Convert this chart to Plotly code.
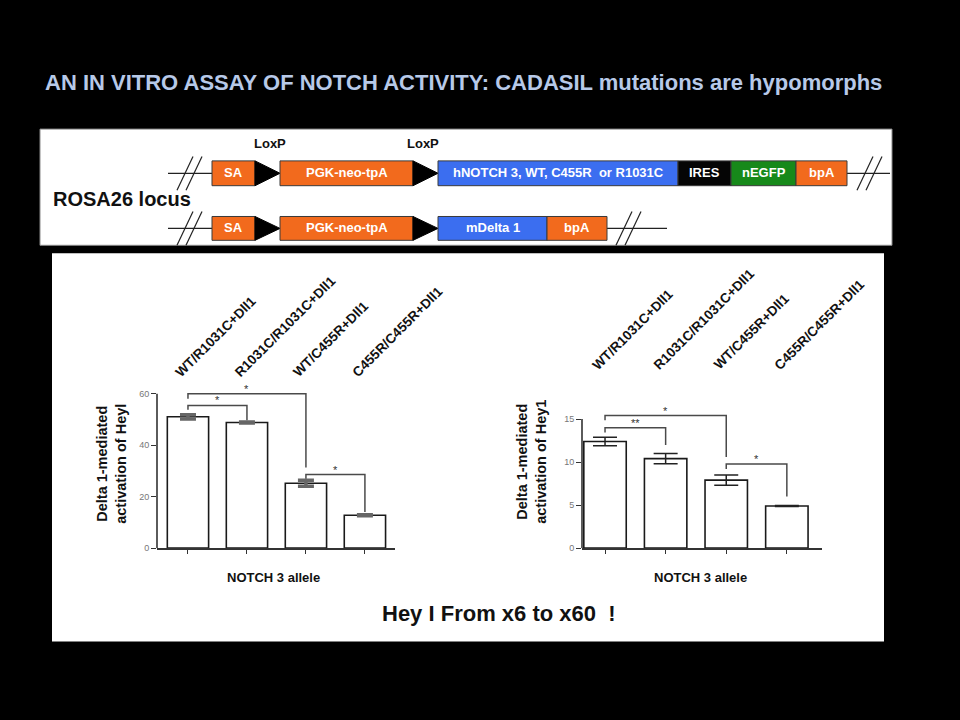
import plotly.graph_objects as go

W, H = 960, 720
FONT = "Liberation Sans, Arial, sans-serif"


def fx(p):
    return p / W


def fy(p):
    return 1 - p / H


# ---------------- data ----------------
categories = ["WT/R1031C+Dll1", "R1031C/R1031C+Dll1", "WT/C455R+Dll1", "C455R/C455R+Dll1"]
hey_left = [51.0, 48.8, 25.2, 12.8]
err_left = [0.8, 0.15, 1.2, 0.2]
hey_right = [12.4, 10.4, 7.9, 4.9]
err_right = [0.5, 0.6, 0.6, 0.05]
ticks_left = [0, 20, 40, 60]
ticks_right = [0, 5, 10, 15]
# significance brackets: (from bar, to bar, bracket height, left leg end, right leg end, label)
brackets_left = [(0, 2, 60.0, 58.0, 31.3, "*"), (0, 1, 55.4, 53.7, 49.7, "*"), (2, 3, 28.6, 27.0, 14.0, "*")]
brackets_right = [(0, 2, 15.4, 14.85, 10.6, "*"), (0, 1, 14.0, 13.45, 12.0, "**"), (2, 3, 9.77, 9.2, 6.0, "*")]

title_text = "AN IN VITRO ASSAY OF NOTCH ACTIVITY: CADASIL mutations are hypomorphs"
footer_text = "Hey I From x6 to x60\u00a0\u00a0!"
ytitle_left = "Delta 1-mediated<br>activation of Heyl"
ytitle_right = "Delta 1-mediated<br>activation of Hey1"
xtitle = "NOTCH 3 allele"

# construct schematic
row1_labels = ["SA", "", "PGK-neo-tpA", "", "hNOTCH 3, WT, C455R\u00a0 or R1031C", "IRES", "nEGFP", "bpA"]
row2_labels = ["SA", "", "PGK-neo-tpA", "", "mDelta 1", "bpA"]
row1_kinds = ["orange", "loxp", "orange", "loxp", "blue", "black", "green", "orange"]
row2_kinds = ["orange", "loxp", "orange", "loxp", "blue", "orange"]
row1_edges = [212, 255, 280, 413, 438, 678, 731, 796, 847]
row2_edges = [212, 255, 280, 413, 438, 547, 607]

COLORS = {"orange": "#f26a1d", "blue": "#3b6ef0", "black": "#050505", "green": "#17891a"}

fig = go.Figure()
shapes = []
annotations = []

# background panels
shapes.append(dict(type="rect", xref="paper", yref="paper", x0=fx(40), x1=fx(892), y0=fy(247), y1=fy(130),
                   fillcolor="white", line=dict(color="#8a8a8a", width=1), layer="below"))
shapes.append(dict(type="rect", xref="paper", yref="paper", x0=fx(52), x1=fx(884), y0=fy(646), y1=fy(255),
                   fillcolor="white", line=dict(width=0), layer="below"))


def draw_row(labels, kinds, edges, top, bottom, line_start, line_end, breaks):
    mid = (top + bottom) / 2
    shapes.append(dict(type="line", xref="paper", yref="paper", x0=fx(line_start), x1=fx(edges[0]),
                       y0=fy(mid), y1=fy(mid), line=dict(color="#222", width=1.2)))
    shapes.append(dict(type="line", xref="paper", yref="paper", x0=fx(edges[-1]), x1=fx(line_end),
                       y0=fy(mid), y1=fy(mid), line=dict(color="#222", width=1.2)))
    for bx in breaks:
        for off in (0, 9):
            shapes.append(dict(type="line", xref="paper", yref="paper",
                               x0=fx(bx + off), x1=fx(bx + off + 16), y0=fy(mid + 17), y1=fy(mid - 17),
                               line=dict(color="#222", width=1.2)))
    for lab, kind, x0, x1 in zip(labels, kinds, edges[:-1], edges[1:]):
        if kind == "loxp":
            path = "M {} {} L {} {} L {} {} Z".format(fx(x0), fy(top), fx(x1), fy(mid), fx(x0), fy(bottom))
            shapes.append(dict(type="path", xref="paper", yref="paper", path=path,
                               fillcolor="black", line=dict(color="black", width=1)))
        else:
            shapes.append(dict(type="rect", xref="paper", yref="paper", x0=fx(x0), x1=fx(x1),
                               y0=fy(bottom), y1=fy(top), fillcolor=COLORS[kind],
                               line=dict(color="#3a3a3a", width=1)))
            annotations.append(dict(xref="paper", yref="paper", x=fx((x0 + x1) / 2), y=fy(mid - 1),
                                    text="<b>" + lab + "</b>", showarrow=False,
                                    font=dict(family=FONT, size=13, color="white"),
                                    xanchor="center", yanchor="middle"))


draw_row(row1_labels, row1_kinds, row1_edges, 162, 187, 168, 890, [177, 857])
draw_row(row2_labels, row2_kinds, row2_edges, 218, 242, 168, 667, [177, 616])

for lx in (270, 423):
    annotations.append(dict(xref="paper", yref="paper", x=fx(lx), y=fy(145), text="<b>LoxP</b>",
                            showarrow=False, font=dict(family=FONT, size=13, color="#111"),
                            xanchor="center", yanchor="middle"))
annotations.append(dict(xref="paper", yref="paper", x=fx(51), y=fy(200), text="<b>ROSA26 locus</b>",
                        showarrow=False, font=dict(family=FONT, size=20, color="#111"),
                        xanchor="left", yanchor="middle"))

# title / footer
annotations.append(dict(xref="paper", yref="paper", x=fx(43), y=fy(83), text="<b>" + title_text + "</b>",
                        showarrow=False, font=dict(family=FONT, size=22, color="#b7c9e8"),
                        xanchor="left", yanchor="middle"))
annotations.append(dict(xref="paper", yref="paper", x=fx(499), y=fy(618), text="<b>" + footer_text + "</b>",
                        showarrow=False, font=dict(family=FONT, size=22, color="#111"),
                        xanchor="center", yanchor="middle"))

xs = list(range(len(categories)))


def add_chart(values, errors, ticks, brackets, xa, ya, err_color, err_width, err_thick,
              label_bottom, ytitle, ytitle_xy, xtitle_xy):
    fig.add_trace(go.Bar(x=xs, y=values, width=0.7, xaxis=xa, yaxis=ya,
                         marker=dict(color="white", line=dict(color="#1a1a1a", width=1.6)),
                         error_y=dict(type="data", array=errors, color=err_color,
                                      thickness=err_thick, width=err_width),
                         showlegend=False, hoverinfo="skip"))
    for (i, j, h, li, lj, lab) in brackets:
        fig.add_trace(go.Scatter(x=[i, i, j, j], y=[li, h, h, lj], mode="lines", xaxis=xa, yaxis=ya,
                                 line=dict(color="#4a4a4a", width=1.5), showlegend=False,
                                 hoverinfo="skip"))
        annotations.append(dict(xref=xa, yref=ya, x=(i + j) / 2, y=h, text=lab, showarrow=False,
                                font=dict(family=FONT, size=11, color="#333"),
                                xanchor="center", yanchor="bottom", yshift=-3))
    shapes.append(dict(type="line", xref=xa + " domain", yref=ya, x0=0, x1=0, y0=ticks[0], y1=ticks[-1],
                       line=dict(color="#333", width=1.6)))
    for k, cat in enumerate(categories):
        annotations.append(dict(xref=xa, yref="paper", x=k, y=fy(label_bottom), text="<b>" + cat + "</b>",
                                textangle=-45, showarrow=False, xanchor="left", yanchor="bottom",
                                xshift=-18, font=dict(family=FONT, size=13.5, color="#111")))
    annotations.append(dict(xref="paper", yref="paper", x=fx(ytitle_xy[0]), y=fy(ytitle_xy[1]),
                            text="<b>" + ytitle + "</b>", textangle=-90, showarrow=False,
                            xanchor="center", yanchor="middle",
                            font=dict(family=FONT, size=14.5, color="#111")))
    annotations.append(dict(xref="paper", yref="paper", x=fx(xtitle_xy[0]), y=fy(xtitle_xy[1]),
                            text="<b>" + xtitle + "</b>", showarrow=False,
                            xanchor="center", yanchor="middle",
                            font=dict(family=FONT, size=13, color="#111")))


add_chart(hey_left, err_left, ticks_left, brackets_left, "x2", "y2", "#666", 8, 3.5,
          385, ytitle_left, (112, 467), (273, 582))
add_chart(hey_right, err_right, ticks_right, brackets_right, "x3", "y3", "#222", 12, 1.5,
          378, ytitle_right, (532, 465), (700, 582))

common_x = dict(showline=True, linecolor="#333", linewidth=2, ticks="outside", ticklen=4,
                tickcolor="#333", tickvals=xs, showticklabels=False, showgrid=False, zeroline=False,
                fixedrange=True)
common_y = dict(showline=False, ticks="outside", ticklen=5, tickcolor="#333", tickwidth=1.2,
                showgrid=False, zeroline=False, tickfont=dict(family=FONT, size=9, color="#777"),
                fixedrange=True)

fig.update_layout(
    width=W, height=H,
    margin=dict(l=0, r=0, t=0, b=0),
    paper_bgcolor="black",
    plot_bgcolor="rgba(0,0,0,0)",
    showlegend=False,
    xaxis2=dict(domain=[fx(157), fx(395)], range=[-0.525, 3.51], anchor="y2", **common_x),
    yaxis2=dict(domain=[fy(552), fy(380)], range=[0, 60 * 172 / 155.6], anchor="x2",
                tickvals=ticks_left, **common_y),
    xaxis3=dict(domain=[fx(582), fx(822)], range=[-0.38, 3.58], anchor="y3", **common_x),
    yaxis3=dict(domain=[fy(552), fy(400)], range=[0, 152 / 8.667], anchor="x3",
                tickvals=ticks_right, **common_y),
    shapes=shapes,
    annotations=annotations,
)

fig.write_html("out.html", config={"displayModeBar": False},
               post_script="document.body.style.margin='0px';document.body.style.background='black';")
